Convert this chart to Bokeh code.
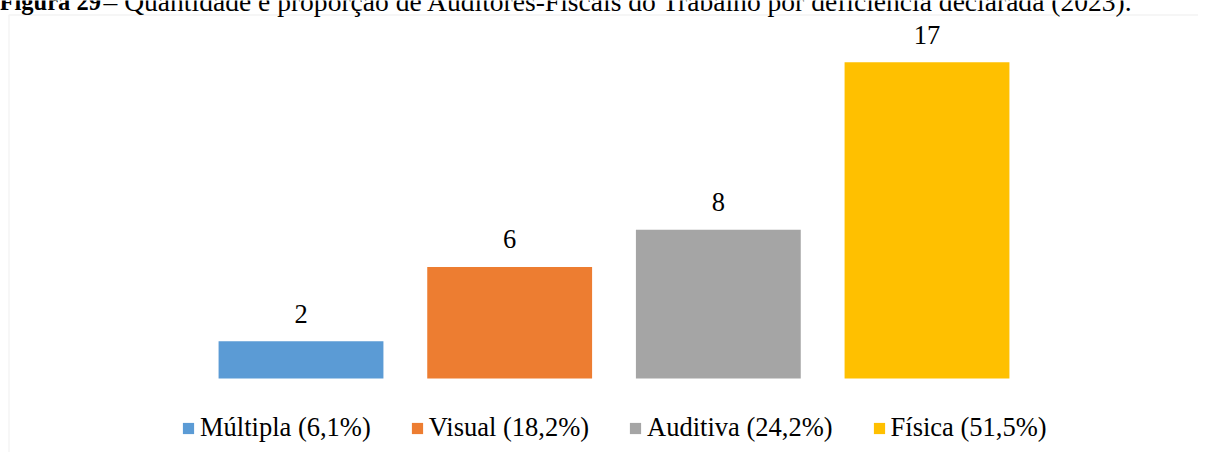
from bokeh.plotting import figure
from bokeh.models import Range1d, Label, Legend, LegendItem, BoxAnnotation, ColumnDataSource
from bokeh.core.properties import value
from bokeh.embed import file_html
from bokeh.resources import INLINE

# ---- data ----
categories = ["Múltipla", "Visual", "Auditiva", "Física"]
counts = [2, 6, 8, 17]
shares = ["6,1%", "18,2%", "24,2%", "51,5%"]
colors = ["#5B9BD5", "#ED7D31", "#A5A5A5", "#FFC000"]
title_bold = "Figura 29"
title_rest = "– Quantidade e proporção de Auditores-Fiscais do Trabalho por deficiência declarada (2023)."

FONT = "Liberation Serif"
W, H = 1198, 452

src = ColumnDataSource(dict(
    x=list(range(len(categories))),
    top=counts,
    color=colors,
    label=[str(c) for c in counts],
))

p = figure(width=W, height=H, output_backend="svg", toolbar_location=None,
           x_range=Range1d(-1.4401, 4.3011), y_range=Range1d(-3.978, 20.323),
           x_axis_location=None, y_axis_location=None,
           min_border=0, min_border_left=0, min_border_right=0,
           min_border_top=0, min_border_bottom=0)
p.grid.visible = False
p.outline_line_color = None
p.background_fill_color = "white"
p.border_fill_color = "white"

# chart border (top and left edges visible)
p.add_layout(BoxAnnotation(left=8.5, right=3000, top=437.5, bottom=-1000,
                           left_units="screen", right_units="screen",
                           top_units="screen", bottom_units="screen",
                           fill_alpha=0, line_color="#D9D9D9", line_width=1.5))

r = p.vbar(x="x", top="top", bottom=0, width=0.79, source=src,
           fill_color="color", line_color=None)

p.text(x="x", y="top", text="label", source=src, y_offset=-27.5,
       text_align="center", text_baseline="alphabetic",
       text_font=value(FONT), text_font_size="26.5px", text_color="black")

# title
p.add_layout(Label(x=-1, y=451.5, x_units="screen", y_units="screen",
                   text=title_bold, text_font=FONT, text_font_style="bold",
                   text_font_size="24.5px", text_baseline="alphabetic",
                   text_color="black"))
p.add_layout(Label(x=103, y=451.5, x_units="screen", y_units="screen",
                   text=title_rest, text_font=FONT, text_font_size="27.55px",
                   text_baseline="alphabetic", text_color="black"))

items = [LegendItem(label=f"{c} ({s})", renderers=[r], index=i)
         for i, (c, s) in enumerate(zip(categories, shares))]
legend = Legend(items=items, location=(181, 9), orientation="horizontal",
                glyph_width=14, glyph_height=14, label_standoff=5, spacing=39,
                padding=0, margin=0, border_line_color=None,
                background_fill_alpha=0,
                label_text_font=FONT, label_text_font_size="26.5px",
                label_text_color="black")
p.add_layout(legend)

open("out.html", "w").write(file_html(p, INLINE))
